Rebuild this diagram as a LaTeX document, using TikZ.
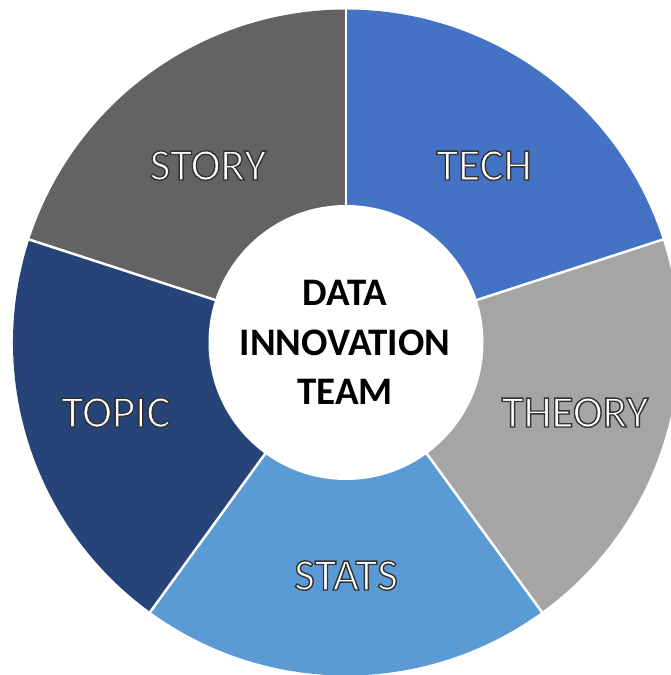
\documentclass[tikz,border=0pt]{standalone}
\usepackage{fontspec}
\setmainfont{Carlito}
\definecolor{ctech}{HTML}{4472C4}
\definecolor{ctheory}{HTML}{A5A5A5}
\definecolor{cstats}{HTML}{5B9BD5}
\definecolor{ctopic}{HTML}{264478}
\definecolor{cstory}{HTML}{636363}
\newcommand\outltxt[1]{\special{pdf:literal direct 2 Tr 1.4 w 0.2 0.2 0.2 RG}#1\special{pdf:literal direct 0 Tr}}
\begin{document}
\begin{tikzpicture}[x=1pt,y=1pt,
  lbl/.style={font=\fontsize{45}{54}\selectfont, inner sep=0pt, anchor=base, text=white},
  ctr/.style={font=\bfseries\fontsize{39}{47}\selectfont, inner sep=0pt, anchor=base, text=black},
  sep/.style={draw=white, line width=2.5pt}]
\useasboundingbox (0,0) rectangle (671,675);
\clip (0,0) rectangle (671,675);
\coordinate (O) at (346,332.5);
\def\R{333}
\fill[ctech]   (O) -- ++(18:\R)   arc[start angle=18,  end angle=90,  radius=\R] -- cycle;
\fill[cstory]  (O) -- ++(90:\R)   arc[start angle=90,  end angle=162, radius=\R] -- cycle;
\fill[ctopic]  (O) -- ++(162:\R)  arc[start angle=162, end angle=234, radius=\R] -- cycle;
\fill[cstats]  (O) -- ++(234:\R)  arc[start angle=234, end angle=306, radius=\R] -- cycle;
\fill[ctheory] (O) -- ++(306:\R)  arc[start angle=306, end angle=378, radius=\R] -- cycle;
\foreach \a in {18,90,162,234,306} {\draw[sep] (O) -- ++(\a:\R+5);}
\fill[white] (O) circle[radius=137.5];
\node[lbl] (story)  at (208,495) {\outltxt{STORY}};
\node[lbl] (tech)   at (484,495) {\outltxt{TECH}};
\node[lbl] (theory) at (575,248) {\outltxt{THEORY}};
\node[lbl] (stats)  at (346,85)  {\outltxt{STATS}};
\node[lbl] (topic)  at (116,248) {\outltxt{TOPIC}};
\node[ctr] (c1) at (345,369) {DATA};
\node[ctr] (c2) at (345,319) {INNOVATION};
\node[ctr] (c3) at (345,270) {TEAM};
\end{tikzpicture}
\end{document}
